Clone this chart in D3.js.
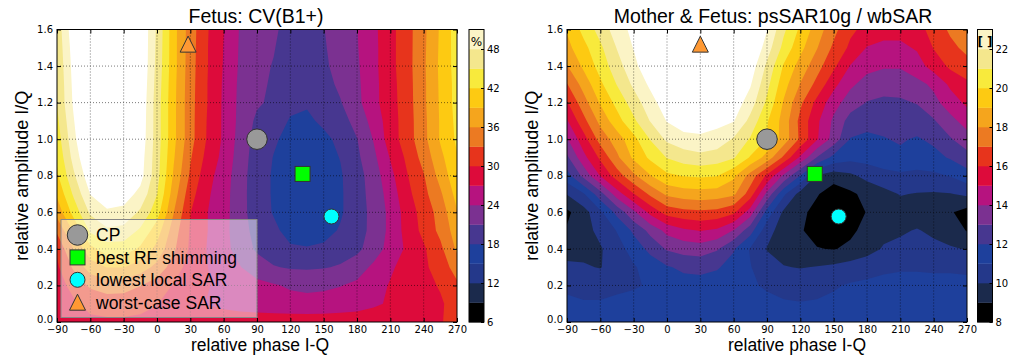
<!DOCTYPE html>
<html>
<head>
<meta charset="utf-8">
<script src="https://cdn.jsdelivr.net/npm/d3@7"></script>
<style>
  body { margin: 0; background: #fff; }
  svg { display: block; }
  .tick text { font-family: "DejaVu Sans", sans-serif; font-size: 10px; fill: #000; }
  .tick line { stroke: #000; }
  .lab { font-family: "Liberation Sans", Arial, sans-serif; fill: #000; }
</style>
</head>
<body>
<svg id="chart" width="1021" height="356"></svg>
<script>
// sample grid (phase in degrees, amplitude ratio)
const phaseGrid = [-90, -75, -60, -45, -30, -15, 0, 15, 30, 45, 60, 75, 90, 105, 120, 135, 150, 165, 180, 195, 210, 225, 240, 255, 270];
const amplitudeGrid = [0, 0.1, 0.2, 0.3, 0.4, 0.5, 0.6, 0.7, 0.8, 0.9, 1.0, 1.1, 1.2, 1.3, 1.4, 1.5, 1.6];

// Fetus CV(B1+) in %, one row per amplitude (0.0 first)
const cvRows = [
  [29.0, 29.2, 29.4, 29.5, 29.5, 29.4, 29.2, 29.0, 28.8, 28.7, 28.6, 28.6, 28.6, 28.6, 28.6, 28.6, 28.6, 28.7, 28.8, 28.9, 29.1, 29.3, 29.6, 29.9, 30.5],
  [28.3, 29.5, 30.8, 31.3, 31.3, 30.8, 30.1, 28.8, 27.8, 26.9, 26.3, 25.8, 25.5, 25.3, 25.1, 25.0, 25.1, 25.3, 25.7, 26.5, 27.4, 28.2, 29.0, 29.7, 31.0],
  [28.7, 31.0, 33.5, 34.5, 34.3, 33.1, 31.5, 29.8, 28.5, 27.2, 26.2, 25.3, 24.8, 24.3, 23.6, 23.3, 23.5, 23.9, 24.6, 26.0, 27.2, 28.3, 29.3, 30.2, 32.5],
  [29.5, 33.5, 37.5, 39.1, 39.1, 37.5, 35.1, 31.5, 28.8, 27.1, 25.5, 24.1, 22.5, 21.2, 20.7, 20.6, 20.8, 21.3, 22.6, 24.6, 26.6, 28.0, 29.4, 31.4, 34.3],
  [30.5, 36.1, 41.1, 43.5, 43.5, 41.5, 38.1, 33.5, 29.5, 26.9, 24.9, 22.8, 20.5, 19.3, 18.4, 18.2, 18.6, 19.6, 20.3, 22.5, 25.1, 27.5, 29.6, 32.3, 36.5],
  [33.5, 39.5, 45.5, 47.5, 47.1, 44.5, 40.5, 34.5, 29.7, 27.1, 24.9, 22.3, 19.9, 18.6, 17.0, 16.6, 16.9, 18.3, 19.9, 21.8, 24.8, 28.1, 30.8, 33.8, 37.5],
  [37.1, 43.1, 48.5, 50.5, 50.1, 47.5, 43.3, 36.1, 30.1, 27.1, 25.1, 22.1, 19.4, 17.8, 16.3, 15.8, 16.2, 17.6, 19.8, 21.8, 24.8, 28.3, 31.2, 34.2, 38.8],
  [39.5, 45.5, 51.1, 53.1, 52.5, 50.1, 45.1, 37.5, 31.2, 27.5, 25.2, 22.1, 19.3, 17.7, 16.3, 15.8, 16.3, 17.6, 19.8, 22.1, 25.3, 29.1, 32.1, 35.5, 40.1],
  [41.5, 47.5, 53.1, 55.1, 54.1, 52.1, 46.1, 38.6, 32.5, 28.1, 25.5, 22.2, 19.3, 17.7, 16.4, 16.1, 16.5, 17.7, 19.8, 22.5, 26.1, 29.8, 32.8, 37.1, 41.1],
  [42.5, 49.1, 54.5, 56.1, 55.1, 52.5, 46.3, 39.3, 33.3, 29.1, 26.1, 22.5, 19.5, 17.9, 16.7, 16.4, 16.9, 18.1, 20.4, 23.3, 27.2, 30.6, 34.1, 38.2, 41.8],
  [43.5, 50.1, 56.1, 57.1, 56.1, 53.1, 46.5, 39.8, 34.1, 29.8, 26.5, 22.8, 19.8, 18.4, 17.1, 16.8, 17.4, 18.6, 20.9, 24.2, 28.5, 31.5, 35.1, 39.3, 42.5],
  [44.3, 50.8, 56.5, 57.5, 56.5, 53.3, 46.5, 39.8, 34.1, 29.9, 26.5, 23.1, 20.4, 19.1, 17.8, 17.5, 18.5, 19.7, 22.1, 25.1, 28.6, 31.5, 35.2, 39.3, 42.8],
  [45.1, 51.5, 57.1, 58.1, 57.1, 53.5, 46.5, 39.8, 34.1, 30.1, 26.5, 23.2, 21.4, 20.4, 18.6, 18.3, 19.5, 20.8, 23.2, 26.1, 28.8, 31.6, 35.4, 39.4, 43.1],
  [45.2, 51.8, 57.5, 58.5, 57.5, 53.8, 46.8, 39.9, 34.2, 30.1, 26.6, 23.3, 21.5, 20.7, 19.2, 18.9, 19.9, 21.6, 23.4, 26.1, 28.9, 31.7, 35.4, 39.5, 43.1],
  [45.5, 52.1, 58.1, 59.1, 58.1, 54.1, 47.1, 40.1, 34.3, 30.2, 26.8, 23.5, 21.5, 20.9, 19.8, 19.5, 20.4, 22.2, 23.6, 26.2, 29.1, 31.8, 35.5, 39.6, 43.3],
  [45.8, 52.5, 58.1, 59.1, 58.1, 54.1, 47.3, 40.1, 34.4, 30.2, 26.9, 23.6, 21.6, 21.1, 20.1, 19.6, 20.7, 22.3, 23.8, 26.2, 29.1, 31.8, 35.4, 39.5, 43.4],
  [46.1, 53.1, 58.1, 59.1, 58.1, 54.1, 47.5, 40.1, 34.5, 30.3, 27.1, 23.7, 21.8, 21.3, 20.3, 19.8, 20.9, 22.4, 23.9, 26.3, 29.1, 31.8, 35.3, 39.4, 43.5]
];

// Mother & Fetus psSAR10g / wbSAR, one row per amplitude (0.0 first)
const sarRows = [
  [11.4, 11.4, 11.4, 11.5, 11.5, 11.6, 11.6, 11.6, 11.6, 11.6, 11.5, 11.5, 11.4, 11.3, 11.3, 11.3, 11.4, 11.5, 11.5, 11.6, 11.6, 11.6, 11.6, 11.6, 11.5],
  [11.2, 11.1, 11.1, 11.2, 11.3, 11.4, 11.5, 11.6, 11.6, 11.5, 11.4, 11.3, 11.2, 11.1, 11.05, 11.1, 11.2, 11.3, 11.4, 11.5, 11.5, 11.5, 11.5, 11.5, 11.4],
  [10.8, 10.6, 10.6, 10.8, 10.9, 11.1, 11.5, 11.6, 11.6, 11.5, 11.3, 11.1, 10.9, 10.7, 10.6, 10.7, 10.9, 11.1, 11.2, 11.3, 11.3, 11.3, 11.3, 11.3, 11.2],
  [10.2, 10.1, 9.95, 10.5, 10.9, 11.4, 11.9, 12.2, 12.3, 12.1, 11.6, 11.05, 10.4, 10.05, 9.95, 10.05, 10.2, 10.4, 10.6, 10.8, 10.9, 10.9, 10.85, 10.85, 10.85],
  [9.6, 9.7, 9.9, 10.6, 11.4, 12.3, 13.1, 13.4, 13.5, 13.1, 12.1, 10.9, 9.95, 9.6, 9.05, 9.05, 8.95, 9.2, 9.6, 10.1, 10.2, 10.3, 10.2, 10.1, 9.95],
  [9.1, 9.6, 10.3, 11.05, 12.2, 13.3, 14.3, 14.8, 15.05, 14.8, 13.95, 12.4, 10.4, 9.5, 9.1, 8.6, 8.4, 8.8, 9.3, 9.7, 9.9, 10.05, 9.85, 9.5, 8.95],
  [8.8, 9.6, 10.8, 12.3, 13.8, 15.3, 16.4, 16.7, 16.8, 16.7, 16.2, 14.5, 11.6, 9.8, 9.3, 8.6, 8.2, 8.5, 9.05, 9.4, 9.6, 9.6, 9.4, 9.1, 8.6],
  [10.05, 10.9, 12.6, 14.5, 15.95, 17.2, 18.2, 18.5, 18.6, 18.5, 18.2, 16.5, 13.7, 11.2, 9.6, 9.1, 8.4, 8.8, 9.3, 9.7, 10.05, 9.95, 9.9, 9.95, 10.2],
  [11.6, 13.3, 15.05, 16.5, 17.8, 18.95, 19.8, 20.05, 20.15, 20.05, 19.2, 17.6, 15.8, 13.8, 11.95, 9.9, 9.5, 9.8, 10.3, 10.6, 10.8, 10.7, 10.8, 11.05, 11.6],
  [12.8, 14.7, 16.2, 17.8, 19.2, 20.2, 21.05, 21.5, 21.7, 21.5, 21.1, 19.9, 18.6, 16.8, 14.8, 12.95, 11.7, 11.3, 11.4, 11.7, 11.8, 11.6, 11.7, 12.1, 12.6],
  [13.9, 15.6, 17.4, 18.5, 19.7, 21.05, 22.2, 22.6, 22.8, 22.6, 21.9, 20.9, 19.95, 18.6, 16.8, 15.1, 13.6, 11.95, 11.8, 11.95, 12.1, 11.9, 12.2, 12.9, 13.6],
  [14.9, 16.7, 18.3, 19.6, 20.8, 22.05, 23.05, 23.6, 23.5, 23.3, 23.05, 21.7, 20.1, 18.6, 16.7, 15.2, 13.8, 12.6, 12.3, 12.3, 12.3, 12.5, 12.9, 13.7, 14.4],
  [15.9, 17.6, 19.1, 20.3, 21.5, 22.6, 23.6, 24.3, 24.4, 24.2, 23.6, 22.5, 20.8, 18.9, 17.2, 15.7, 14.4, 13.5, 12.95, 12.8, 12.85, 13.05, 13.7, 14.5, 15.2],
  [16.95, 18.4, 19.8, 21.05, 22.2, 23.2, 24.3, 25.0, 25.2, 25.0, 24.3, 23.1, 21.3, 19.4, 17.95, 16.7, 15.3, 14.2, 13.6, 13.4, 13.4, 13.7, 14.2, 15.2, 15.8],
  [17.95, 19.2, 20.4, 21.6, 22.7, 23.8, 24.8, 25.4, 25.6, 25.4, 24.8, 23.6, 21.8, 19.9, 18.6, 17.4, 16.2, 14.95, 14.3, 14.1, 14.1, 14.6, 15.4, 16.2, 16.6],
  [18.7, 19.7, 20.8, 22.05, 23.05, 24.2, 25.2, 25.8, 26.0, 25.8, 25.2, 24.2, 22.5, 20.7, 19.3, 18.05, 16.8, 15.8, 14.95, 14.8, 14.8, 15.1, 16.05, 16.7, 17.3],
  [19.1, 20.3, 21.4, 22.5, 23.3, 24.5, 25.5, 26.0, 26.2, 26.0, 25.5, 24.5, 23.05, 21.2, 19.8, 18.5, 17.3, 16.2, 15.7, 15.3, 15.3, 15.7, 16.3, 17.2, 17.95]
];

const cvLevels = [6, 9, 12, 15, 18, 21, 24, 27, 30, 33, 36, 39, 42, 45, 48, 51];
const sarLevels = [8, 9, 10, 11, 12, 13, 14, 15, 16, 17, 18, 19, 20, 21, 22, 23];
const bandColors = ["#000000", "#1b2a4c", "#24388a", "#1e409c", "#473790", "#7b3191", "#b6137f", "#dd0b3b",
                    "#e7341c", "#ec7a22", "#f5a51d", "#fdca12", "#f8ea3c", "#f4e78d", "#fbf4c6"];

const phaseTicks = [-90, -60, -30, 0, 30, 60, 90, 120, 150, 180, 210, 240, 270];
const amplitudeTicks = [0, 0.2, 0.4, 0.6, 0.8, 1.0, 1.2, 1.4, 1.6];
const cvTicks = [6, 12, 18, 24, 30, 36, 42, 48];
const sarTicks = [8, 10, 12, 14, 16, 18, 20, 22];

const markerNames = ["CP", "best RF shimming", "lowest local SAR", "worst-case SAR"];
const cvMarkers = [[90, 1.0], [131, 0.81], [157, 0.577], [28, 1.52]];
const sarMarkers = [[90, 1.0], [133, 0.81], [154.5, 0.577], [30, 1.52]];

const markerStyles = [
  { shape: "circle", size: 20.5, fill: "#999999" },
  { shape: "square", size: 15, fill: "#00ff00" },
  { shape: "circle", size: 15, fill: "#00ffff" },
  { shape: "triangle", size: 16, fill: "#ff9933" }
];

const panels = [
  { id: "cv", left: 57, right: 457, top: 29.5, bottom: 322, rows: cvRows, levels: cvLevels, cbTicks: cvTicks,
    markers: cvMarkers, title: "Fetus: CV(B1+)", titleX: 256, xLabelX: 260, yLabelX: 28, cbX: 469, unit: "%", legend: true },
  { id: "sar", left: 567, right: 967, top: 29.5, bottom: 322, rows: sarRows, levels: sarLevels, cbTicks: sarTicks,
    markers: sarMarkers, title: "Mother & Fetus: psSAR10g / wbSAR", titleX: 773, xLabelX: 797, yLabelX: 538, cbX: 977.5, unit: "[ ]", legend: false }
];

const svg = d3.select("#chart");

function drawMarker(sel, kind, cx, cy) {
  const s = markerStyles[kind];
  let m;
  if (s.shape === "circle") {
    m = sel.append("circle").attr("cx", cx).attr("cy", cy).attr("r", s.size / 2);
  } else if (s.shape === "square") {
    m = sel.append("rect").attr("x", cx - s.size / 2).attr("y", cy - s.size / 2)
      .attr("width", s.size).attr("height", s.size);
  } else {
    const h = s.size / 2;
    m = sel.append("path").attr("d", `M${cx},${cy - h}L${cx + h},${cy + h}L${cx - h},${cy + h}Z`);
  }
  m.attr("fill", s.fill).attr("stroke", "#333").attr("stroke-width", 1);
}

function drawPanel(p) {
  const g = svg.append("g");
  const n = phaseGrid.length, m = amplitudeGrid.length;

  const x = d3.scaleLinear().domain([phaseGrid[0], phaseGrid[n - 1]]).range([p.left, p.right]);
  const y = d3.scaleLinear().domain([amplitudeGrid[0], amplitudeGrid[m - 1]]).range([p.bottom, p.top]);

  // d3.contours puts sample i at i + 0.5
  const gx = d3.scaleLinear().domain([0.5, n - 0.5]).range([phaseGrid[0], phaseGrid[n - 1]]);
  const gy = d3.scaleLinear().domain([0.5, m - 0.5]).range([amplitudeGrid[0], amplitudeGrid[m - 1]]);
  const path = d3.geoPath(d3.geoTransform({
    point(a, b) { this.stream.point(x(gx(a)), y(gy(b))); }
  }));

  g.append("clipPath").attr("id", "clip-" + p.id)
    .append("rect").attr("x", p.left).attr("y", p.top)
    .attr("width", p.right - p.left).attr("height", p.bottom - p.top);

  const bands = d3.contours().size([n, m]).thresholds(p.levels)(p.rows.flat());
  g.append("g").attr("clip-path", `url(#clip-${p.id})`)
    .selectAll("path").data(bands).join("path")
    .attr("d", path)
    .attr("fill", (d, i) => i < bandColors.length ? bandColors[i] : "#fff");

  // dotted grid
  const grid = g.append("g").attr("stroke", "#000").attr("stroke-width", 0.7)
    .attr("stroke-dasharray", "1,2").attr("opacity", 0.75);
  grid.selectAll("line.v").data(phaseTicks.slice(1, -1)).join("line").attr("class", "v")
    .attr("x1", d => x(d)).attr("x2", d => x(d)).attr("y1", p.top).attr("y2", p.bottom);
  grid.selectAll("line.h").data(amplitudeTicks.slice(1, -1)).join("line").attr("class", "h")
    .attr("y1", d => y(d)).attr("y2", d => y(d)).attr("x1", p.left).attr("x2", p.right);

  // axes with inward ticks
  const bottom = g.append("g").attr("transform", `translate(0,${p.bottom})`)
    .call(d3.axisBottom(x).tickValues(phaseTicks).tickSizeInner(-4).tickSizeOuter(0).tickPadding(3.5));
  const top = g.append("g").attr("transform", `translate(0,${p.top})`)
    .call(d3.axisTop(x).tickValues(phaseTicks).tickSizeInner(-4).tickSizeOuter(0).tickFormat(""));
  const left = g.append("g").attr("transform", `translate(${p.left},0)`)
    .call(d3.axisLeft(y).tickValues(amplitudeTicks).tickSizeInner(-4).tickSizeOuter(0).tickPadding(4)
      .tickFormat(d3.format(".1f")));
  const right = g.append("g").attr("transform", `translate(${p.right},0)`)
    .call(d3.axisRight(y).tickValues(amplitudeTicks).tickSizeInner(-4).tickSizeOuter(0).tickFormat(""));
  [bottom, top, left, right].forEach(a => a.select(".domain").remove());
  // lowest y label sits a touch higher so it clears the x labels
  left.selectAll(".tick text").filter(d => d === 0).attr("dy", "0.05em");

  g.append("rect").attr("x", p.left).attr("y", p.top)
    .attr("width", p.right - p.left).attr("height", p.bottom - p.top)
    .attr("fill", "none").attr("stroke", "#000").attr("stroke-width", 1);

  // markers
  p.markers.forEach((d, i) => drawMarker(g, i, x(d[0]), y(d[1])));

  // titles and axis labels
  g.append("text").attr("class", "lab").attr("x", p.titleX).attr("y", 23)
    .attr("text-anchor", "middle").attr("font-size", 19.5).text(p.title);
  g.append("text").attr("class", "lab").attr("x", p.xLabelX).attr("y", 351)
    .attr("text-anchor", "middle").attr("font-size", 17.5).text("relative phase I-Q");
  g.append("text").attr("class", "lab")
    .attr("transform", `translate(${p.yLabelX},${(p.top + p.bottom) / 2}) rotate(-90)`)
    .attr("text-anchor", "middle").attr("font-size", 18).text("relative amplitude I/Q");

  // colorbar
  const lv = p.levels;
  const cb = d3.scaleLinear().domain([lv[0], lv[lv.length - 1]]).range([p.bottom, p.top]);
  const cbW = 15;
  g.append("g").selectAll("rect").data(d3.pairs(lv)).join("rect")
    .attr("x", p.cbX).attr("width", cbW)
    .attr("y", d => cb(d[1])).attr("height", d => cb(d[0]) - cb(d[1]) + 0.3)
    .attr("fill", (d, i) => bandColors[i]);
  const cbAxis = g.append("g").attr("transform", `translate(${p.cbX + cbW},0)`)
    .call(d3.axisRight(cb).tickValues(p.cbTicks).tickSizeInner(-3).tickSizeOuter(0).tickPadding(3));
  cbAxis.select(".domain").remove();
  g.append("rect").attr("x", p.cbX).attr("y", p.top).attr("width", cbW).attr("height", p.bottom - p.top)
    .attr("fill", "none").attr("stroke", "#000").attr("stroke-width", 1);
  g.append("text").attr("x", p.cbX + cbW / 2).attr("y", 46).attr("text-anchor", "middle")
    .attr("font-family", "DejaVu Sans").attr("font-size", 12).attr("font-weight", p.unit === "%" ? "normal" : "bold")
    .text(p.unit);

  if (p.legend) {
    const lg = g.append("g");
    lg.append("rect").attr("x", 61).attr("y", 219.5).attr("width", 196).attr("height", 98)
      .attr("fill", "#fff").attr("fill-opacity", 0.5).attr("stroke", "#888").attr("stroke-width", 1);
    markerNames.forEach((name, i) => {
      const cy = 235 + i * 22.4;
      drawMarker(lg, i, 77.5, cy);
      lg.append("text").attr("class", "lab").attr("x", 96).attr("y", cy + 6.3)
        .attr("font-size", 17.5).text(name);
    });
  }
}

panels.forEach(drawPanel);
</script>
</body>
</html>
